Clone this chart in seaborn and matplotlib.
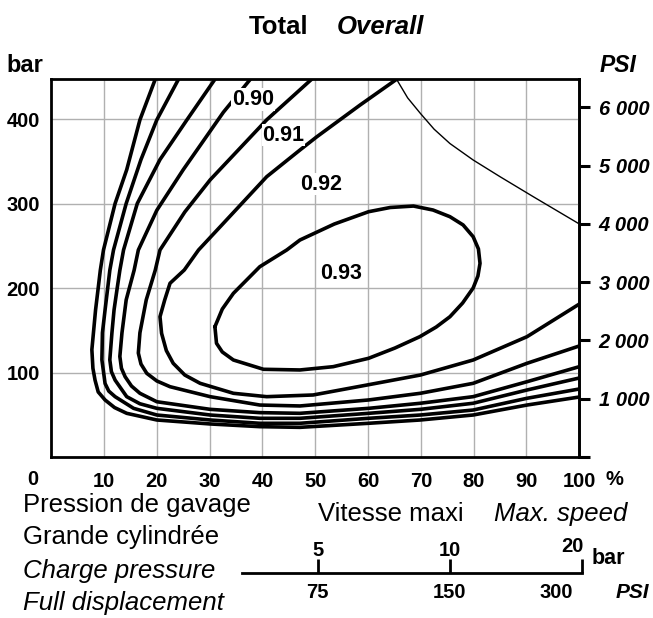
import matplotlib
matplotlib.use("Agg")
import matplotlib.pyplot as plt
import seaborn as sns

# iso-efficiency curves (speed in % of max, pressure in bar)
curve_a_speed = [19.7, 16.8, 14.3, 12.1, 9.9, 9.3, 8.9, 8.4, 8.0, 7.7, 7.9, 8.3, 8.9, 10.2, 12.0, 14.3, 20.0, 30.1, 39.5, 47.1, 60.1, 69.9, 79.9, 90.1, 100]
curve_a_bar = [447, 399, 340, 300, 245, 221, 200, 174, 147, 127, 105, 91, 77, 67.5, 58.5, 51.7, 43.8, 39.1, 35.9, 35.1, 39.9, 43.8, 49.7, 61.5, 71]

curve_b_speed = [24.1, 20.0, 17.0, 14.2, 11.8, 11.1, 10.7, 10.2, 9.7, 9.6, 10.2, 10.9, 12.1, 15.6, 20.0, 30.1, 39.5, 47.1, 60.1, 69.9, 79.9, 90.1, 100]
curve_b_bar = [447, 399, 352, 300, 245, 221, 200, 174, 147, 115, 87, 78, 71.4, 57.6, 49.7, 43.8, 39.9, 39.9, 45.8, 49.7, 55.6, 69.5, 80.5]

curve_c_speed = [31.0, 25.7, 20.6, 16.3, 13.7, 13.0, 12.5, 11.9, 11.5, 11.1, 11.4, 12.1, 14.3, 16.8, 20.0, 30.1, 39.5, 47.1, 60.1, 69.9, 79.9, 90.1, 100]
curve_c_bar = [447, 399, 352, 300, 245, 221, 200, 174, 147, 115, 101, 91, 71.4, 63, 57.6, 49.7, 45.8, 45.8, 51.7, 56.4, 63.6, 79.3, 93.5]

eff_090_speed = [37.7, 32.6, 25.0, 20.0, 16.5, 15.7, 14.2, 13.4, 13.0, 13.3, 14.0, 15.2, 16.8, 20.0, 30.1, 39.5, 47.1, 60.1, 69.9, 79.9, 90.1, 100]
eff_090_bar = [447, 408, 340, 292, 245, 221, 186, 147, 119, 105, 95, 84, 75.4, 65.4, 56.4, 52.5, 51.7, 57.6, 63.6, 71.4, 89.1, 106.9]

eff_091_speed = [49.3, 40.8, 30.1, 25.3, 20.6, 19.7, 18.0, 16.8, 16.5, 17.0, 18.1, 20.0, 22.5, 30.1, 39.5, 47.1, 60.1, 69.9, 79.9, 90.1, 100]
eff_091_bar = [447, 399, 328, 290, 245, 221, 186, 147, 123, 110, 99, 90, 83.2, 71.4, 61.5, 60.4, 67.5, 75.4, 87.2, 110.9, 131.4]

eff_092_speed = [65.4, 58.5, 50.3, 47.1, 40.8, 32.0, 27.9, 25.2, 22.5, 21.5, 20.6, 20.9, 21.8, 23.1, 25.3, 28.2, 34.5, 40.8, 49.6, 59.8, 69.9, 79.9, 90.1, 100]
eff_092_bar = [447, 416.6, 379, 363.3, 331.7, 272.5, 245, 221.3, 205.6, 186, 166, 146.4, 126, 110.9, 97, 87.2, 75.4, 71.4, 73.4, 85.2, 97, 114.8, 142.4, 181]

eff_093_speed = [31.0, 31.3, 32.4, 34.5, 40.2, 47.1, 53.4, 60.1, 65.1, 69.8, 72.9, 75.5, 77.9, 79.9, 80.8, 81.2, 80.9,
                 79.9, 78.0, 75.5, 72.3, 68.6, 64.2, 60.1, 53.6, 47.1, 44.6, 39.5, 34.5, 32.4, 31.0]
eff_093_bar = [154.2, 134.6, 124.3, 114.8, 103.8, 103, 106.9, 116.8, 129, 142.4, 153.8, 166, 182.2, 200, 214.2, 229.2, 246.2,
               260.7, 274.6, 284.4, 292.3, 297, 295.3, 290.3, 275.7, 256.8, 245, 225.2, 193.7, 175.1, 154.2]

# max speed limit (thin line)
limit_speed = [65.4, 67.5, 69.9, 72.5, 75.5, 79.9, 85.0, 91.3, 100]
limit_bar = [447, 425, 406.7, 388, 371, 351.5, 331.7, 308, 275.8]

curve_labels = ['0.90', '0.91', '0.92', '0.93']
label_speed = [38.2, 44.0, 51.2, 54.9]
label_bar = [423, 380.7, 322.8, 217.4]

speed_ticks = [10, 20, 30, 40, 50, 60, 70, 80, 90, 100]
bar_ticks = [100, 200, 300, 400]
psi_ticks = [0, 1000, 2000, 3000, 4000, 5000, 6000]
psi_labels = ['', '1 000', '2 000', '3 000', '4 000', '5 000', '6 000']

charge_bar = [5, 10, 20]
charge_psi = ['75', '150', '300']

W, H = 653, 618


def fx(px):
    return px / W


def fy(py):
    return 1 - py / H


sns.set_theme(style="white")
plt.rcParams['font.family'] = ['Liberation Sans', 'DejaVu Sans']
plt.rcParams['text.color'] = 'black'
plt.rcParams['xtick.color'] = 'black'
plt.rcParams['ytick.color'] = 'black'
plt.rcParams['axes.labelcolor'] = 'black'

fig = plt.figure(figsize=(W / 100, H / 100), dpi=100)
ax = fig.add_axes([fx(51.2), fy(457), (579.3 - 51.2) / W, (457 - 79.3) / H])

curves = [(curve_a_speed, curve_a_bar), (curve_b_speed, curve_b_bar), (curve_c_speed, curve_c_bar),
          (eff_090_speed, eff_090_bar), (eff_091_speed, eff_091_bar), (eff_092_speed, eff_092_bar),
          (eff_093_speed, eff_093_bar)]
for xs, ys in curves:
    sns.lineplot(x=xs, y=ys, sort=False, estimator=None, color='black', lw=2.6, ax=ax,
                 solid_joinstyle='round', solid_capstyle='round')
sns.lineplot(x=limit_speed, y=limit_bar, sort=False, estimator=None, color='black', lw=1.0, ax=ax)

for lab, xs, ys in zip(curve_labels, label_speed, label_bar):
    ax.text(xs, ys, lab, ha='center', va='center', fontsize=15.5, fontweight='bold', zorder=5,
            bbox=dict(facecolor='white', edgecolor='none', pad=0.5))

ax.set_xlim(0, 100)
ax.set_ylim(0, 447)
ax.set_xticks(speed_ticks, labels=[str(t) for t in speed_ticks])
ax.set_yticks(bar_ticks, labels=[str(t) for t in bar_ticks])
ax.tick_params(axis='x', length=0, pad=11, labelsize=14.5)
ax.tick_params(axis='y', length=0, pad=8, labelsize=14.5)
for t in ax.get_xticklabels() + ax.get_yticklabels():
    t.set_fontweight('bold')
ax.grid(True, color='#b0b0b0', lw=1.0)
for s in ax.spines.values():
    s.set_linewidth(2.0)
    s.set_color('black')

psi = ax.secondary_yaxis('right', functions=(lambda b: b * 14.5038, lambda p: p / 14.5038))
psi.set_yticks(psi_ticks, labels=psi_labels)
psi.tick_params(direction='out', length=8, width=2.2, pad=6, labelsize=14.5, colors='black')
for t in psi.get_yticklabels():
    t.set_fontweight('bold')
    t.set_fontstyle('italic')
psi.spines['right'].set_linewidth(2.0)

# corner zero and percent sign
ax.annotate('0', xy=(0, 0), xytext=(-13, -16), textcoords='offset points', ha='center', va='center',
            fontsize=14.5, fontweight='bold', annotation_clip=False)
ax.annotate('%', xy=(100, 0), xytext=(25, -16), textcoords='offset points', ha='center', va='center',
            fontsize=14.5, fontweight='bold', annotation_clip=False)

# titles and unit labels
fig.text(fx(249), fy(27), 'Total', ha='left', va='center', fontsize=18.5, fontweight='bold')
fig.text(fx(337), fy(27), 'Overall', ha='left', va='center', fontsize=18.5, fontweight='bold', fontstyle='italic')
fig.text(fx(6), fy(66), 'bar', ha='left', va='center', fontsize=17, fontweight='bold')
fig.text(fx(600), fy(66), 'PSI', ha='left', va='center', fontsize=16.5, fontweight='bold', fontstyle='italic')

fig.text(fx(23), fy(505), 'Pression de gavage', ha='left', va='center', fontsize=18.5)
fig.text(fx(23), fy(537), 'Grande cylindrée', ha='left', va='center', fontsize=18.5)
fig.text(fx(23), fy(571), 'Charge pressure', ha='left', va='center', fontsize=18.5, fontstyle='italic')
fig.text(fx(23), fy(603), 'Full displacement', ha='left', va='center', fontsize=18.5, fontstyle='italic')
fig.text(fx(318), fy(514), 'Vitesse maxi', ha='left', va='center', fontsize=18.5)
fig.text(fx(627), fy(514), 'Max. speed', ha='right', va='center', fontsize=18.5, fontstyle='italic')

# charge pressure scale
sax = fig.add_axes([fx(241.7), fy(573.3), (582 - 241.7) / W, 0.02])
sax.set_xscale('log', base=2)
sax.set_xlim(3.353, 20)
sax.set_ylim(0, 1)
for s in ['top', 'left', 'right']:
    sax.spines[s].set_visible(False)
sax.spines['bottom'].set_linewidth(2.0)
sax.spines['bottom'].set_color('black')
sax.patch.set_visible(False)
sax.set_yticks([])
sax.set_xticks(charge_bar, labels=[])
sax.minorticks_off()
sax.tick_params(axis='x', bottom=True, direction='in', length=10, width=2, colors='black')

for i, (b, p) in enumerate(zip(charge_bar, charge_psi)):
    last = i == len(charge_bar) - 1
    sax.annotate(str(b), xy=(b, 0), xycoords=('data', 'axes fraction'),
                 xytext=(0 if not last else 1, 16.5 if not last else 19), textcoords='offset points',
                 ha='center' if not last else 'right', va='center', fontsize=14.5, fontweight='bold',
                 annotation_clip=False)
    sax.annotate(p, xy=(b, 0), xycoords=('data', 'axes fraction'),
                 xytext=(0 if not last else -6.5, -13.5), textcoords='offset points',
                 ha='center' if not last else 'right', va='center', fontsize=14.5, fontweight='bold',
                 annotation_clip=False)

fig.text(fx(592), fy(558), 'bar', ha='left', va='center', fontsize=15.5, fontweight='bold')
fig.text(fx(616), fy(592), 'PSI', ha='left', va='center', fontsize=15, fontweight='bold', fontstyle='italic')

fig.savefig('out.png', dpi=100)
